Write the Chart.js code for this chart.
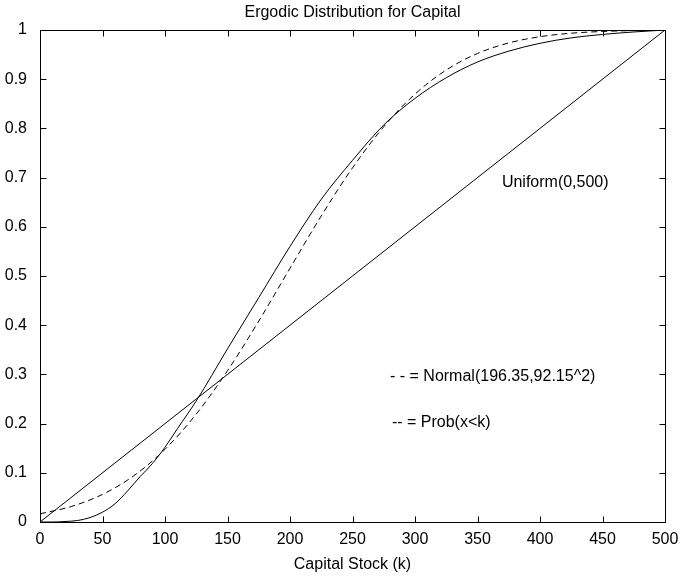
<!DOCTYPE html>
<html>
<head>
<meta charset="utf-8">
<script src="https://cdn.jsdelivr.net/npm/chart.js@4.4.1/dist/chart.umd.min.js"></script>
<style>
  html, body { margin: 0; padding: 0; background: #fff; }
  #wrap { width: 680px; height: 577px; }
</style>
</head>
<body>
<div id="wrap"><canvas id="c" width="680" height="577"></canvas></div>
<script>
// Capital grid (k) and cumulative probabilities
const kUniform = [0, 500];
const pUniform = [0, 1];

const kNormal = [0, 25, 50, 75, 100, 125, 150, 175, 200, 225, 250, 275, 300, 325, 350, 375, 400, 425, 450, 475, 500];
const pNormal = [0.0166, 0.0315, 0.0561, 0.0939, 0.1478, 0.2194, 0.3075, 0.4083, 0.5158, 0.6221, 0.7198, 0.8034, 0.8697, 0.9187, 0.9523, 0.9737, 0.9864, 0.9935, 0.9970, 0.9988, 0.9995];

const kErgodic = [0, 10, 20, 30, 40, 50, 60, 70, 80, 90, 100, 110, 125, 150, 175, 200, 225, 250, 275, 300, 325, 350, 375, 400, 425, 450, 475, 500];
const pErgodic = [0, 0, 0.001, 0.003, 0.009, 0.020, 0.037, 0.063, 0.092, 0.119, 0.152, 0.190, 0.246, 0.352, 0.456, 0.560, 0.656, 0.735, 0.807, 0.861, 0.903, 0.935, 0.957, 0.973, 0.984, 0.991, 0.996, 1.0];

const xTickLabels = ['0', '50', '100', '150', '200', '250', '300', '350', '400', '450', '500'];
const yTickLabels = ['0', '0.1', '0.2', '0.3', '0.4', '0.5', '0.6', '0.7', '0.8', '0.9', '1'];

const FONT = '"Liberation Sans", Arial, Helvetica, sans-serif';
const FS = 16;

const pts = (xs, ys) => xs.map((x, i) => ({ x: x, y: ys[i] }));

// Frame, inward ticks on all four sides, title, axis label and annotations
const decorations = {
  id: 'decorations',
  afterDraw(chart) {
    const { ctx, chartArea: a, scales } = chart;
    const xs = scales.x, ys = scales.y;
    const L = Math.round(a.left) + 0.5, R = Math.round(a.right) + 0.5;
    const T = Math.round(a.top) + 0.5, B = Math.round(a.bottom) + 0.5;
    const tl = 6;
    ctx.save();
    ctx.strokeStyle = '#000';
    ctx.lineWidth = 1;
    ctx.beginPath();
    ctx.rect(L, T, R - L, B - T);
    xs.ticks.forEach(t => {
      const px = Math.round(xs.getPixelForValue(t.value)) + 0.5;
      ctx.moveTo(px, B); ctx.lineTo(px, B - tl);
      ctx.moveTo(px, T); ctx.lineTo(px, T + tl);
    });
    ys.ticks.forEach(t => {
      const py = Math.round(ys.getPixelForValue(t.value)) + 0.5;
      ctx.moveTo(L, py); ctx.lineTo(L + tl, py);
      ctx.moveTo(R, py); ctx.lineTo(R - tl, py);
    });
    ctx.stroke();

    ctx.fillStyle = '#000';
    ctx.font = FS + 'px ' + FONT;
    ctx.textBaseline = 'middle';
    ctx.textAlign = 'center';
    ctx.fillText('Ergodic Distribution for Capital', (a.left + a.right) / 2, 13);
    ctx.fillText('Capital Stock (k)', (a.left + a.right) / 2, 565);

    ctx.textAlign = 'left';
    ctx.fillText('Uniform(0,500)', xs.getPixelForValue(369.5), ys.getPixelForValue(0.689));
    ctx.fillText('- - = Normal(196.35,92.15^2)', xs.getPixelForValue(280), ys.getPixelForValue(0.295));
    ctx.fillText('-- = Prob(x<k)', xs.getPixelForValue(281.5), ys.getPixelForValue(0.203));
    ctx.restore();
  }
};

new Chart(document.getElementById('c'), {
  type: 'line',
  data: {
    datasets: [
      {
        label: 'Uniform(0,500)',
        data: pts(kUniform, pUniform),
        borderColor: '#000', borderWidth: 1, pointRadius: 0, tension: 0
      },
      {
        label: 'Normal(196.35,92.15^2)',
        data: pts(kNormal, pNormal),
        borderColor: '#000', borderWidth: 1, borderDash: [6, 4], pointRadius: 0,
        cubicInterpolationMode: 'monotone'
      },
      {
        label: 'Prob(x<k)',
        data: pts(kErgodic, pErgodic),
        borderColor: '#000', borderWidth: 1, pointRadius: 0,
        cubicInterpolationMode: 'monotone'
      }
    ]
  },
  options: {
    responsive: false,
    animation: false,
    devicePixelRatio: 1,
    layout: { padding: { top: 30, right: 15, left: 0, bottom: 0 } },
    plugins: { legend: { display: false }, title: { display: false }, tooltip: { enabled: false } },
    scales: {
      x: {
        type: 'linear', min: 0, max: 500,
        grid: { display: false }, border: { display: false },
        ticks: {
          stepSize: 50, padding: 0, color: '#000',
          font: { family: FONT, size: FS },
          callback: (v) => xTickLabels[Math.round(v / 50)]
        },
        afterFit: (s) => { s.height = 55; }
      },
      y: {
        type: 'linear', min: 0, max: 1,
        grid: { display: false }, border: { display: false },
        ticks: {
          stepSize: 0.1, padding: 5, color: '#000',
          font: { family: FONT, size: FS },
          callback: (v) => yTickLabels[Math.round(v * 10)]
        },
        afterFit: (s) => { s.width = 40; }
      }
    }
  },
  plugins: [decorations]
});
</script>
</body>
</html>
